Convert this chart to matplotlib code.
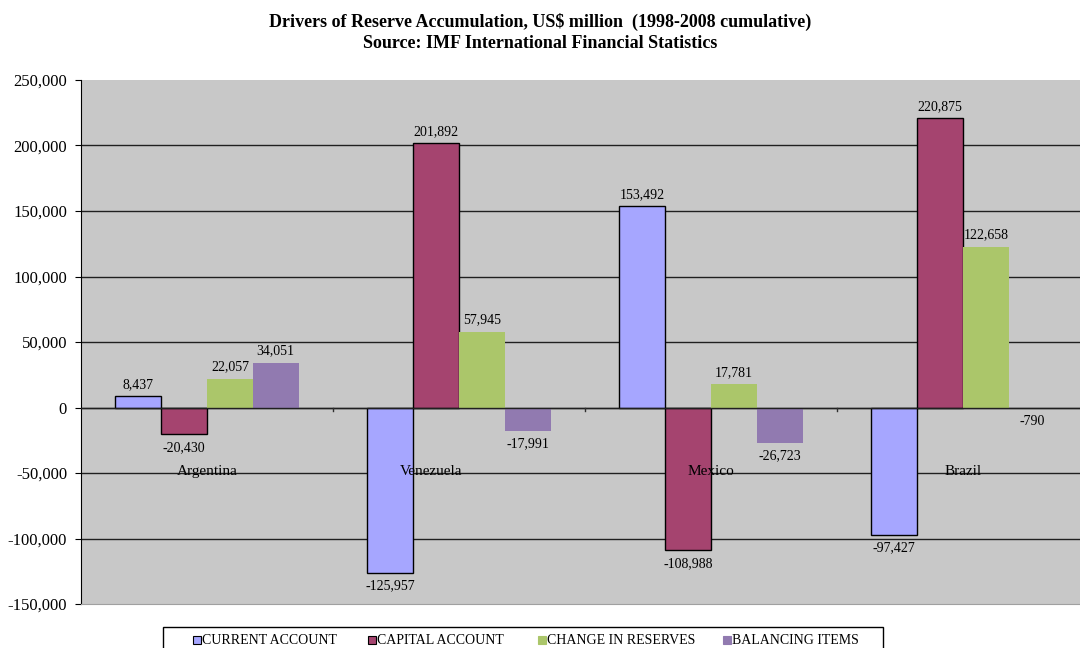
import numpy as np
import matplotlib
matplotlib.use('Agg')
from matplotlib import pyplot as plt
from matplotlib.patches import Rectangle

countries = ['Argentina', 'Venezuela', 'Mexico', 'Brazil']
series = ['CURRENT ACCOUNT', 'CAPITAL ACCOUNT', 'CHANGE IN RESERVES', 'BALANCING ITEMS']
current_account = [8437, -125957, 153492, -97427]
capital_account = [-20430, 201892, -108988, 220875]
change_in_reserves = [22057, 57945, 17781, 122658]
balancing_items = [34051, -17991, -26723, -790]
yticks = [-150000, -100000, -50000, 0, 50000, 100000, 150000, 200000, 250000]

colors = ['#A6A6FF', '#A5446F', '#ABC66A', '#917AB0']
edges = ['black', 'black', 'none', 'none']
# excel nudged the venezuela label left a bit
label_shift = [0, -0.11, 0, 0]

plt.rcParams['font.family'] = ['Liberation Serif', 'DejaVu Serif']

fig = plt.figure(figsize=(10.8, 6.48), dpi=100)
ax = fig.add_axes([81/1080, 1-604/648, 1008/1080, 524/648])
ax.set_facecolor('#C8C8C8')

data = [current_account, capital_account, change_in_reserves, balancing_items]
x = np.arange(len(countries))
w = 1 / 5.5
for i, vals in enumerate(data):
    xs = x - 1.5*w + i*w
    ax.bar(xs, vals, width=w, color=colors[i], edgecolor=edges[i], linewidth=1, zorder=3)
    for xi, v in zip(xs, vals):
        if v >= 0:
            ax.text(xi, v + 4000, f'{v:,}', ha='center', va='bottom', fontsize=10, zorder=4)
        else:
            ax.text(xi, v - 5000, f'{v:,}', ha='center', va='top', fontsize=10, zorder=4)

for xi, c, sh in zip(x, countries, label_shift):
    ax.text(xi + sh, -49000, c, ha='center', va='center', fontsize=11, zorder=4)

ax.set_xlim(-0.5, 3.5)
ax.set_ylim(-150000, 250000)
ax.set_yticks(yticks)
ax.set_yticklabels([f'{t:,}' for t in yticks], fontsize=12)
ax.tick_params(axis='y', length=4, direction='out', pad=6)
ax.set_xticks([])
for t in yticks[1:-1]:
    ax.axhline(t, color='#202020', linewidth=1, zorder=1)
ax.axhline(0, color='#202020', linewidth=1, zorder=3.5)
for b in [0.5, 1.5, 2.5]:
    ax.plot([b, b], [0, -3000], color='#303030', linewidth=1, zorder=3.5)

for s in ['top', 'right']:
    ax.spines[s].set_visible(False)
ax.spines['bottom'].set_color('#A0A0A0')
ax.spines['left'].set_color('black')

fig.text(0.5, 1-22/648, 'Drivers of Reserve Accumulation, US$ million  (1998-2008 cumulative)',
         ha='center', va='center', fontsize=13, fontweight='bold')
fig.text(0.5, 1-44/648, 'Source: IMF International Financial Statistics',
         ha='center', va='center', fontsize=13, fontweight='bold')

# legend box (cut off at the bottom like the original)
fig.patches.append(Rectangle((163/1080, -10/648), 720/1080, 21/648 + 10/648,
                             transform=fig.transFigure, facecolor='white',
                             edgecolor='black', linewidth=1))
leg_x = [193, 368, 538, 723]
for i, name in enumerate(series):
    fig.patches.append(Rectangle(((leg_x[i]) / 1080, 1 - 644/648), 8/1080, 8/648,
                                 transform=fig.transFigure, facecolor=colors[i],
                                 edgecolor='black' if edges[i] != 'none' else colors[i],
                                 linewidth=0.8))
    fig.text((leg_x[i] + 9) / 1080, 1 - 640/648, name, ha='left', va='center', fontsize=10)

fig.savefig('out.png', dpi=100)
